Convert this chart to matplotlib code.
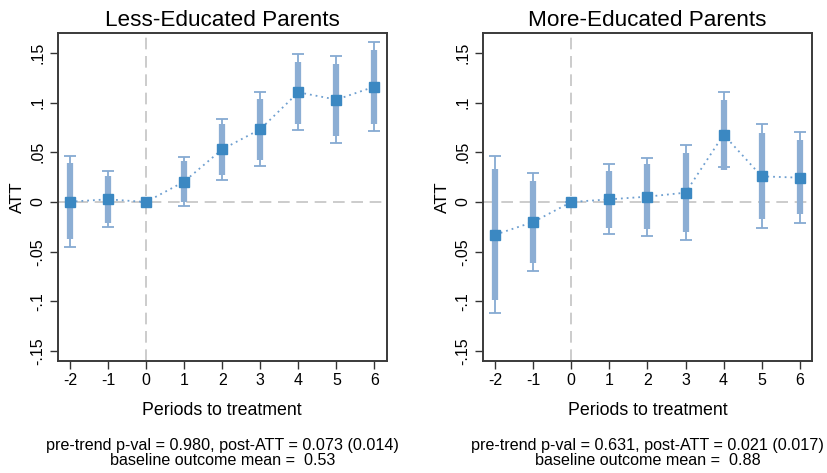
import matplotlib
matplotlib.use('Agg')
import matplotlib.pyplot as plt
import numpy as np

plt.rcParams['font.family'] = ['Liberation Sans', 'DejaVu Sans']

periods = [-2, -1, 0, 1, 2, 3, 4, 5, 6]
titles = ['Less-Educated Parents', 'More-Educated Parents']

# less-educated parents
att_less = [0.0003, 0.0027, 0.0, 0.0205, 0.053, 0.0732, 0.1104, 0.103, 0.1161]
ci95_lo_less = [-0.0453, -0.0255, 0.0, -0.004, 0.0218, 0.0366, 0.0721, 0.0594, 0.0715]
ci95_hi_less = [0.0466, 0.0312, 0.0, 0.0456, 0.0839, 0.1104, 0.1487, 0.147, 0.1607]
ci90_lo_less = [-0.0376, -0.0208, 0.0, 0.0003, 0.0268, 0.0426, 0.0782, 0.0664, 0.0785]
ci90_hi_less = [0.0389, 0.0265, 0.0, 0.0413, 0.0782, 0.104, 0.1413, 0.1393, 0.1534]

# more-educated parents
att_more = [-0.0329, -0.0201, 0.0, 0.0027, 0.0054, 0.0094, 0.0678, 0.0258, 0.0245]
ci95_lo_more = [-0.1114, -0.0691, 0.0, -0.0319, -0.0339, -0.0386, 0.0352, -0.0265, -0.0208]
ci95_hi_more = [0.046, 0.0295, 0.0, 0.0379, 0.0446, 0.0574, 0.1104, 0.0782, 0.0701]
ci90_lo_more = [-0.0983, -0.0611, 0.0, -0.0258, -0.0275, -0.0305, 0.0326, -0.0174, -0.0124]
ci90_hi_more = [0.0329, 0.0215, 0.0, 0.0315, 0.0379, 0.049, 0.103, 0.0691, 0.0621]

caption_top = ['pre-trend p-val = 0.980, post-ATT = 0.073 (0.014)',
               'pre-trend p-val = 0.631, post-ATT = 0.021 (0.017)']
caption_bottom = ['baseline outcome mean =  0.53',
                  'baseline outcome mean =  0.88']

yticks = [-0.15, -0.1, -0.05, 0, 0.05, 0.1, 0.15]
ytick_labels = ['-.15', '-.1', '-.05', '0', '.05', '.1', '.15']

series = [
    (att_less, ci95_lo_less, ci95_hi_less, ci90_lo_less, ci90_hi_less),
    (att_more, ci95_lo_more, ci95_hi_more, ci90_lo_more, ci90_hi_more),
]

fig = plt.figure(figsize=(8.28, 4.73), dpi=100, facecolor='white')
lefts = [0.0697, 0.5833]
width = 0.3973
bottom = 0.2368
height = 0.6941

for i, (att, lo95, hi95, lo90, hi90) in enumerate(series):
    ax = fig.add_axes([lefts[i], bottom, width, height])
    x = np.array(periods)
    att = np.array(att)
    ax.axhline(0, color='#c4c4c4', lw=1.2, dashes=(7, 4), zorder=1)
    ax.axvline(0, color='#c4c4c4', lw=1.2, dashes=(7, 4), zorder=1)
    # 95% whiskers with caps
    ax.errorbar(x, att, yerr=[att - np.array(lo95), np.array(hi95) - att],
                fmt='none', ecolor='#86aad2', elinewidth=1.3, capsize=4,
                capthick=1.3, zorder=2)
    # 90% thick bars
    ax.vlines(x, lo90, hi90, color='#8caed4', lw=4.5, zorder=3)
    # dotted connecting line
    ax.plot(x, att, ls=(0, (1, 2.2)), color='#6e9fd0', lw=1.3, zorder=4)
    ax.plot(x, att, ls='none', marker='s', ms=7.5, color='#3b88c2', zorder=5)

    ax.set_xlim(-2.32, 6.32)
    ax.set_ylim(-0.16, 0.1704)
    ax.set_xticks(periods)
    ax.set_xticklabels([str(p) for p in periods], fontsize=11.5)
    ax.set_yticks(yticks)
    ax.set_yticklabels(ytick_labels, fontsize=11.5, rotation=90, va='center')
    ax.tick_params(length=6, width=1, color='#333333', pad=3)
    for sp in ax.spines.values():
        sp.set_color('#3a3a3a')
        sp.set_linewidth(1.4)
    ax.set_ylabel('ATT', fontsize=12.5, labelpad=4)
    ax.set_xlabel('Periods to treatment', fontsize=12.8, labelpad=10)
    ax.set_title(titles[i], fontsize=16.2, pad=5)
    cx = lefts[i] + width / 2
    fig.text(cx, 1 - 445 / 473, caption_top[i], ha='center', va='center', fontsize=11.6)
    fig.text(cx, 1 - 460 / 473, caption_bottom[i], ha='center', va='center', fontsize=11.6)

fig.savefig('out.png', dpi=100, facecolor='white')
